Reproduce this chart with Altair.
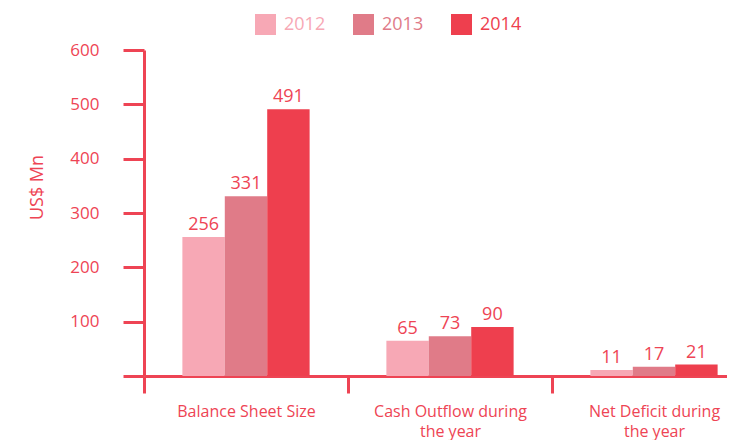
import altair as alt
import pandas as pd

categories = ["Balance Sheet Size", "Cash Outflow during the year", "Net Deficit during the year"]
years = ["2012", "2013", "2014"]
values_2012 = [256, 65, 11]
values_2013 = [331, 73, 17]
values_2014 = [491, 90, 21]
y_ticks = [0, 100, 200, 300, 400, 500, 600]
colors = ["#F7A8B5", "#E07B88", "#EE3F4E"]
red = "#EE4454"

rows = []
for yr, vals in zip(years, [values_2012, values_2013, values_2014]):
    for c, v in zip(categories, vals):
        rows.append({"category": c, "year": yr, "value": v})
df = pd.DataFrame(rows)

x = alt.X(
    "category:N",
    sort=categories,
    scale=alt.Scale(range=[0, 612], paddingInner=0, paddingOuter=0),
    axis=alt.Axis(
        title=None,
        tickBand="extent",
        tickSize=17,
        tickWidth=3,
        tickColor=red,
        domainColor=red,
        domainWidth=3,
        labelColor=red,
        labelFontSize=16,
        labelAngle=0,
        labelPadding=10,
        labelLineHeight=20,
        labelBaseline="top",
        labelExpr="split(replace(datum.label, ' during ', ' during\\n'), '\\n')",
    ),
)
xo = alt.XOffset("year:N", sort=years, scale=alt.Scale(paddingInner=0, paddingOuter=0.905))
y = alt.Y(
    "value:Q",
    scale=alt.Scale(domain=[0, 600], nice=False),
    axis=alt.Axis(
        title="US$ Mn",
        values=y_ticks,
        grid=False,
        tickSize=21,
        tickWidth=3,
        tickColor=red,
        domainColor=red,
        domainWidth=3,
        labelColor=red,
        labelFontSize=17,
        labelPadding=24,
        labelExpr="datum.value == 0 ? '' : datum.label",
        titleColor=red,
        titleFontSize=18,
        titleFontWeight="normal",
        titleX=-107,
        titleY=137,
        titleAlign="center",
        titleBaseline="middle",
        titleAngle=270,
    ),
)
color = alt.Color(
    "year:N",
    sort=years,
    scale=alt.Scale(domain=years, range=colors),
    legend=alt.Legend(
        title=None,
        orient="none",
        direction="horizontal",
        legendX=111,
        legendY=-36,
        symbolType="square",
        symbolSize=441,
        symbolStrokeWidth=0,
        symbolOpacity=1,
        labelFontSize=18,
        labelOffset=8,
        columnPadding=27,
        padding=0,
        labelColor={"expr": "scale('color', datum.value)"},
    ),
)

bars = alt.Chart(df).mark_bar(opacity=1).encode(x=x, xOffset=xo, y=y, color=color)
labels = alt.Chart(df).mark_text(
    baseline="bottom", dy=-3, fontSize=18, color=red
).encode(x=x, xOffset=xo, y=y, text="value:Q")

chart = (
    alt.layer(bars, labels)
    .properties(
        width=583,
        height=326,
        autosize=alt.AutoSizeParams(type="none"),
        padding={"left": 136, "top": 42, "right": 0, "bottom": 64},
    )
    .configure(font="Open Sans")
    .configure_view(stroke=None)
)

chart.save("out.html", embed_options={"renderer": "svg", "actions": False})
